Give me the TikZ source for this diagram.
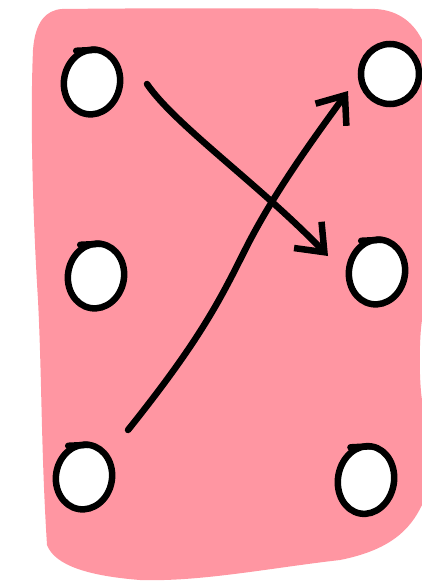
\documentclass[tikz,border=0pt]{standalone}
\usepackage{tikz}
\usetikzlibrary{arrows.meta,shapes.geometric}
\definecolor{blobpink}{RGB}{255,150,162}
\tikzset{
  dot/.style={ellipse, draw=black, fill=white, line width=6.5pt,
    minimum width=56pt, minimum height=65pt, inner sep=0pt, rotate=-10},
  dot-tail/.style={line width=6.5pt, line cap=round},
  swap-arrow/.style={line width=6.5pt, line cap=round, line join=round,
    -{Straight Barb[length=24pt, width=38pt, line width=6.5pt]}}
}

\begin{document}
\begin{tikzpicture}[x=1pt, y=-1pt]
  \useasboundingbox (0,0) rectangle (422,584);

  % Background blob
  \fill[blobpink] (62,9) .. controls (150,8) and (300,8) .. (375,9)
    .. controls (400,10) and (415,25) .. (422,40)
    -- (422,320) .. controls (419,340) and (419,380) .. (422,400)
    -- (422,505) .. controls (410,530) and (390,550) .. (340,560)
    .. controls (270,568) and (200,582) .. (140,580)
    .. controls (90,576) and (55,566) .. (47,545)
    .. controls (41,450) and (42,380) .. (38,300)
    .. controls (33,220) and (30,120) .. (33,50)
    .. controls (35,22) and (46,10) .. (62,9) -- cycle;

  % Dots
  \node[dot] (left-top) at (92,82) {};
  \node[dot] (left-mid) at (96,276) {};
  \node[dot] (left-bot) at (84,477) {};
  \node[dot, minimum width=58pt, minimum height=60pt, rotate=10] (right-top) at (390,74) {};
  \node[dot] (right-mid) at (377,272) {};
  \node[dot, minimum height=68pt] (right-bot) at (366,480) {};

  % Pen ticks at the start of each dot
  \foreach \n in {left-top,left-mid,left-bot,right-mid,right-bot}
    \draw[dot-tail] (\n.north) ++(-2,3) -- ++(-20,1);

  % Arrow ends
  \coordinate (top-start) at (147,84);
  \coordinate (mid-end) at (328,256);
  \coordinate (bot-start) at (128,430);
  \coordinate (top-end) at (348,91);

  % Crossing arrows
  \draw[swap-arrow] (top-start) .. controls (175,125) and (260,185) .. (mid-end);
  \draw[swap-arrow] (bot-start) .. controls (200,340) and (220,300) .. (245,250)
    .. controls (275,190) and (320,130) .. (top-end);
\end{tikzpicture}
\end{document}
